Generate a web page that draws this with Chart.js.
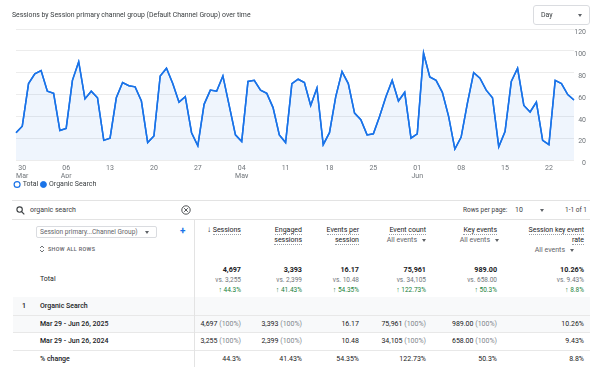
<!DOCTYPE html>
<html><head><meta charset="utf-8">
<script src="https://cdn.jsdelivr.net/npm/chart.js@4.4.1/dist/chart.umd.min.js"></script>
<style>
html,body{margin:0;padding:0;background:#fff;}
body{width:603px;height:378px;position:relative;overflow:hidden;font-family:Roboto,"Noto Sans",Arial,sans-serif;color:#202124;}
#c{position:absolute;left:0;top:0;}
.t{position:absolute;white-space:nowrap;font-size:7px;line-height:10px;}
.dot{border-bottom:1px dotted #9aa0a6;padding-bottom:0px;}
.g{color:#80868b;}
svg{display:block;}
</style></head><body>
<canvas id="c" width="603" height="198"></canvas>
<div id="ui"></div>
<script>
// ---- chart data ----
const sessions = [25,31,70,79,82,63,61,27,29,73,
                  90,56,63,57,18,20,57,71,68,67,
                  54,16,22,77,84,70,53,58,25,13,
                  51,64,63,77,50,23,17,72,73,64,
                  61,48,23,16,70,74,71,50,66,14,
                  25,58,81,70,43,37,23,24,40,58,
                  73,54,62,20,24,98,76,73,62,40,
                  10,21,52,80,75,64,57,12,26,72,
                  84,50,44,53,18,14,73,70,60,55];
const seriesNames = ['Total', 'Organic Search'];
const xTickIndex = [1, 8, 15, 22, 29, 36, 43, 50, 57, 64, 71, 78, 85];
const xTickText = [['30','Mar'],['06','Apr'],['13'],['20'],['27'],['04','May'],['11'],['18'],['25'],['01','Jun'],['08'],['15'],['22']];
const yMax = 120, yStep = 20;

// ---- table data ----
const columnHeaders = [['Sessions'], ['Engaged','sessions'], ['Events per','session'], ['Event count'], ['Key events'], ['Session key event','rate']];
const totals = ['4,697','3,393','16.17','75,961','989.00','10.26%'];
const prevTotals = ['3,255','2,399','10.48','34,105','658.00','9.43%'];
const changes = ['44.3%','41.43%','54.35%','122.73%','50.3%','8.8%'];
const row2025 = ['4,697','3,393','16.17','75,961','989.00','10.26%'];
const row2024 = ['3,255','2,399','10.48','34,105','658.00','9.43%'];
const rowShare = ['(100%)','(100%)','','(100%)','(100%)',''];
const rowLabels = ['Organic Search','Mar 29 - Jun 26, 2025','Mar 29 - Jun 26, 2024','% change'];

// category labels (dates)
const dates = [];
{ const d0 = new Date(2025, 2, 29); for (let i = 0; i < sessions.length; i++) { const d = new Date(d0); d.setDate(d0.getDate() + i); dates.push(d.toDateString()); } }

const blue = '#1a73e8';
new Chart(document.getElementById('c'), {
  type: 'line',
  data: { labels: dates, datasets: [
    { label: seriesNames[0], data: sessions, borderColor: blue, borderWidth: 1.5, backgroundColor: 'rgba(26,115,232,0.07)', fill: 'origin', pointRadius: 0, pointBackgroundColor: '#ffffff', pointBorderColor: blue, pointBorderWidth: 1.2, tension: 0 },
    { label: seriesNames[1], data: sessions, borderColor: blue, borderWidth: 1.5, fill: false, pointRadius: 0, pointBackgroundColor: blue, pointBorderColor: blue, pointBorderWidth: 1, tension: 0 }
  ]},
  options: {
    responsive: false, animation: false, devicePixelRatio: 1, events: [],
    layout: { padding: { left: 12, right: 17, top: 29, bottom: 0 } },
    plugins: {
      legend: { position: 'bottom', align: 'start', labels: { usePointStyle: true, pointStyle: 'circle', boxWidth: 4.2, boxHeight: 4.2, padding: 3, color: '#3c4043', font: { family: 'Roboto', size: 7 } } },
      tooltip: { enabled: false }
    },
    scales: {
      x: { ticks: { autoSkip: false, maxRotation: 0, minRotation: 0, padding: -3, color: '#70757a', font: { family: 'Roboto', size: 7, lineHeight: 1.05 },
             callback: (v, i) => { const k = xTickIndex.indexOf(i); return k < 0 ? null : xTickText[k]; } },
           grid: { display: false }, border: { display: false }, afterFit: s => { s.height = 18; } },
      y: { position: 'right', min: 0, max: yMax,
           ticks: { stepSize: yStep, crossAlign: 'far', padding: 0, color: '#70757a', font: { family: 'Roboto', size: 7, lineHeight: 1 }, callback: v => ['', String(v)] },
           grid: { color: '#ececec', drawTicks: false }, border: { display: false }, afterFit: s => { s.width = 12; } },
      pad: { type: 'linear', position: 'left', display: true, ticks: { display: false }, grid: { display: false }, border: { display: false }, afterFit: s => { s.width = 4; } }
    }
  }
});

// ---- UI / table ----
const ui = document.getElementById('ui');
function txt(s, x, y, o = {}) {
  const e = document.createElement('div'); e.className = 't';
  if (o.html) e.innerHTML = s; else e.textContent = s;
  const fs = o.size || 7;
  e.style.fontSize = fs + 'px'; e.style.lineHeight = '10px'; e.style.top = (y - 5) + 'px';
  if (o.right) e.style.right = (603 - x) + 'px'; else e.style.left = x + 'px';
  if (o.color) e.style.color = o.color;
  if (o.weight) e.style.fontWeight = o.weight;
  if (o.ls) e.style.letterSpacing = o.ls + 'px';
  ui.appendChild(e); return e;
}
function box(x, y, w, h, css) { const e = document.createElement('div'); e.style.position = 'absolute'; e.style.left = x + 'px'; e.style.top = y + 'px'; e.style.width = w + 'px'; e.style.height = h + 'px'; e.style.lineHeight = '0'; Object.assign(e.style, css || {}); ui.appendChild(e); return e; }
function tri(x, y, c) { box(x - 2.5, y - 1.2, 0, 0, { borderLeft: '2.5px solid transparent', borderRight: '2.5px solid transparent', borderTop: '3px solid ' + (c || '#5f6368') }); }
function svg(x, y, w, h, inner) { const e = box(x, y, w, h); e.innerHTML = '<svg width="' + w + '" height="' + h + '" viewBox="0 0 ' + w + ' ' + h + '">' + inner + '</svg>'; }

// title + Day select
txt('Sessions by Session primary channel group (Default Channel Group) over time', 12, 15, { size: 6.9, color: '#3c4043' });
box(533, 5, 57, 20, { border: '1px solid #dadce0', borderRadius: '3px', boxSizing: 'border-box' });
txt('Day', 541, 15, { size: 7, color: '#3c4043' });
tri(580, 15);

// search row
box(12, 200, 578, 1, { background: '#e3e3e3' });
box(12, 219, 578, 1, { background: '#e3e3e3' });
svg(16, 206, 9, 9, '<circle cx="3.6" cy="3.6" r="2.7" fill="none" stroke="#3c4043" stroke-width="1.1"/><line x1="5.6" y1="5.6" x2="8.3" y2="8.3" stroke="#3c4043" stroke-width="1.2"/>');
txt('organic search', 30, 210, { size: 7, color: '#3c4043' });
svg(181, 205, 10, 10, '<circle cx="5" cy="5" r="4.2" fill="none" stroke="#3c4043" stroke-width="0.9"/><line x1="3.2" y1="3.2" x2="6.8" y2="6.8" stroke="#3c4043" stroke-width="0.9"/><line x1="6.8" y1="3.2" x2="3.2" y2="6.8" stroke="#3c4043" stroke-width="0.9"/>');
txt('Rows per page:', 463, 210, { size: 6.5, color: '#3c4043' });
txt('10', 515, 210, { size: 7, color: '#3c4043' });
tri(542, 210);
txt('1-1 of 1', 587, 210, { size: 6.5, color: '#3c4043', right: true });

// divider
box(194, 219, 1, 148, { background: '#e3e3e3' });

// dimension selector
box(36, 226, 121, 12, { border: '1px solid #dadce0', borderRadius: '2px', boxSizing: 'border-box' });
txt('Session primary...Channel Group)', 40, 232, { size: 6.6, color: '#5f6368' });
tri(147, 232);
txt('+', 180, 231, { size: 10, color: blue, weight: 700 });
svg(39, 245, 6, 8, '<polyline points="1,3 3,1 5,3" fill="none" stroke="#5f6368" stroke-width="0.9"/><polyline points="1,5 3,7 5,5" fill="none" stroke="#5f6368" stroke-width="0.9"/>');
txt('SHOW ALL ROWS', 48, 249, { size: 5.4, color: '#5f6368', weight: 500, ls: 0.35 });

// column headers
const colRight = [241, 302, 359, 426, 497, 584];
columnHeaders.forEach((h, i) => {
  h.forEach((line, j) => txt('<span class="dot">' + line + '</span>', colRight[i], 230 + j * 10, { html: true, right: true, size: 7, color: '#202124' }));
});
txt('↓', 207, 230, { size: 8, weight: 700, color: '#202124' });
txt('All events', 417, 240, { size: 7, color: '#5f6368', right: true }); tri(424, 240);
txt('All events', 490, 240, { size: 7, color: '#5f6368', right: true }); tri(497, 240);
txt('All events', 565, 250, { size: 7, color: '#5f6368', right: true }); tri(572, 250);

// totals
txt('Total', 40, 279, { size: 7 });
totals.forEach((v, i) => {
  txt(v, colRight[i], 270, { right: true, size: 7.2, weight: 700 });
  txt('vs. ' + prevTotals[i], colRight[i], 280, { right: true, size: 6.5, color: '#70757a' });
  txt('<b style="font-size:7px">↑</b> ' + changes[i], colRight[i], 290, { html: true, right: true, size: 6.5, color: '#188038' });
});

// rows
box(13, 297, 577, 18, { background: '#f8f9fa' });
box(13, 315, 577, 1, { background: '#e8e8e8' });
box(13, 316, 577, 16, { background: '#f8f9fa' });
box(13, 332, 577, 1, { background: '#e8e8e8' });
box(13, 349.5, 577, 1, { background: '#e8e8e8' });
box(194, 297, 1, 70, { background: '#e3e3e3' });
const rowY = [306, 323.5, 341, 358.5];
txt('1', 22, rowY[0], { size: 7, weight: 500 });
rowLabels.forEach((l, k) => txt(l, 40, rowY[k], { size: 7, weight: 500 }));
[row2025, row2024].forEach((row, k) => {
  row.forEach((v, i) => {
    const s = rowShare[i] ? v + ' <span class="g">' + rowShare[i] + '</span>' : v;
    txt(s, colRight[i], rowY[k + 1], { html: true, right: true, size: 7 });
  });
});
changes.forEach((v, i) => txt(v, colRight[i], rowY[3], { right: true, size: 7 }));
</script>
</body></html>
